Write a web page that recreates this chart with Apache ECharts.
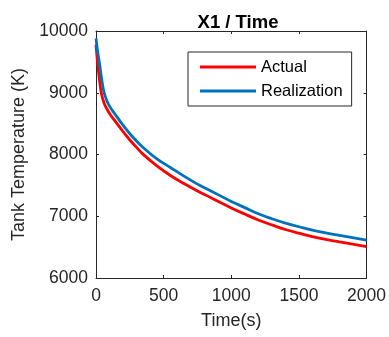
<!DOCTYPE html>
<html><head><meta charset="utf-8">
<script src="https://cdn.jsdelivr.net/npm/echarts@6/dist/echarts.min.js"></script>
<style>html,body{margin:0;padding:0;background:#fff}#c{width:389px;height:337px}</style>
</head><body><div id="c"></div>
<script>
const titleText = 'X1 / Time';
const xName = 'Time(s)';
const yName = 'Tank Temperature (K)';
const seriesNames = ['Actual', 'Realization'];
const actualT = [0,10,22,39,60,85,107,150,200,250,300,345,450,550,650,750,850,1000,1100,1200,1300,1400,1500,1650,1800,2000];
const actualV = [9780,9520,9280,9000,8830,8720,8640,8515,8370,8235,8115,8010,7815,7660,7530,7410,7300,7135,7035,6940,6860,6785,6725,6645,6585,6510];
const realT = [0,10,27,40,58,80,102,136,150,200,275,350,450,550,650,750,850,1000,1100,1200,1300,1400,1500,1650,1800,2000];
const realV = [9880,9700,9460,9250,9020,8870,8775,8667,8625,8475,8275,8110,7930,7790,7650,7520,7410,7240,7140,7040,6960,6890,6830,6750,6690,6615];
const xTicks = [0,500,1000,1500,2000];
const yTicks = [6000,7000,8000,9000,10000];

const font = 'Liberation Sans, Arial, sans-serif';
const axisColor = '#262626';
const chart = echarts.init(document.getElementById('c'), null, {renderer:'canvas'});
const zip = (a,b)=>a.map((t,i)=>[t,b[i]]);
const boxAxis = (pos, isX) => ({
  type:'value', position: pos, min: isX?xTicks[0]:yTicks[0], max: isX?xTicks[xTicks.length-1]:yTicks[yTicks.length-1], interval: isX?500:1000,
  axisLine:{show:true,onZero:false,lineStyle:{color:axisColor,width:1}},
  axisTick:{show:true,inside:true,length:3,lineStyle:{color:axisColor}},
  axisLabel:{show:false}, splitLine:{show:false}
});
chart.setOption({
  animation:false,
  title:{text:titleText,left:233,top:8,textAlign:'center',textStyle:{fontFamily:font,fontSize:18.5,fontWeight:'bold',color:'#000'}},
  grid:{left:96,right:19,top:31,bottom:59,containLabel:false},
  legend:{
    orient:'vertical',left:188,top:52,
    data:seriesNames,
    icon:'rect',itemWidth:56,itemHeight:3,itemGap:4,
    padding:[5,9,5,12],
    borderColor:'#262626',borderWidth:1,backgroundColor:'#fff',
    textStyle:{fontFamily:font,fontSize:16.5,color:'#000',lineHeight:20}
  },
  xAxis:[{
    type:'value',min:0,max:2000,interval:500,
    name:xName,nameLocation:'middle',nameGap:34,
    nameTextStyle:{fontFamily:font,fontSize:18,color:axisColor},
    axisLine:{show:true,onZero:false,lineStyle:{color:axisColor,width:1}},
    axisTick:{show:true,inside:true,length:3,lineStyle:{color:axisColor}},
    axisLabel:{fontFamily:font,fontSize:17.5,color:axisColor,margin:9,formatter:v=>String(v)},
    splitLine:{show:false}
  }, boxAxis('top',true)],
  yAxis:[{
    type:'value',min:6000,max:10000,interval:1000,
    name:yName,nameLocation:'middle',nameGap:68,
    nameTextStyle:{fontFamily:font,fontSize:18,color:axisColor},
    axisLine:{show:true,onZero:false,lineStyle:{color:axisColor,width:1}},
    axisTick:{show:true,inside:true,length:3,lineStyle:{color:axisColor}},
    axisLabel:{fontFamily:font,fontSize:17.5,color:axisColor,margin:8,formatter:v=>String(v)},
    splitLine:{show:false}
  }, boxAxis('right',false)],
  series:[
    {name:seriesNames[0],type:'line',data:zip(actualT,actualV),smooth:0.4,showSymbol:false,symbol:'none',
     lineStyle:{color:'#FF0000',width:2.8},itemStyle:{color:'#FF0000'}},
    {name:seriesNames[1],type:'line',data:zip(realT,realV),smooth:0.4,showSymbol:false,symbol:'none',
     lineStyle:{color:'#0072BD',width:2.8},itemStyle:{color:'#0072BD'}}
  ]
});
</script></body></html>
